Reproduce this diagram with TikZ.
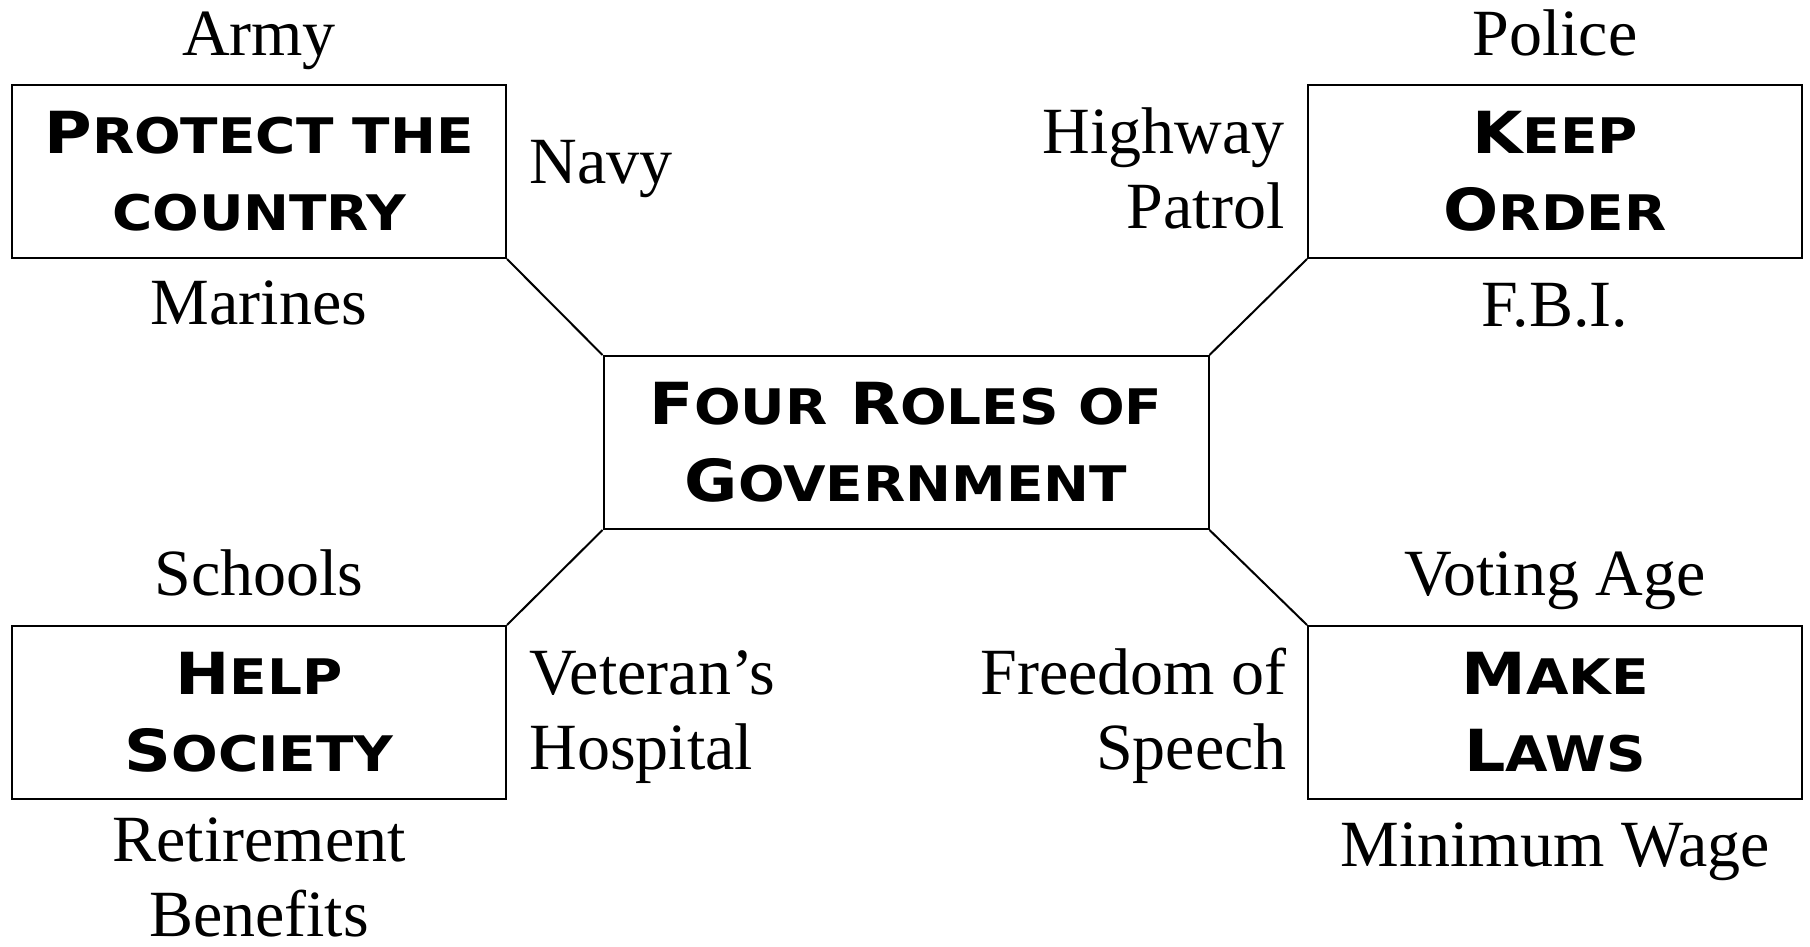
\documentclass[tikz,border=0pt]{standalone}
\usepackage{fontspec}
\setmainfont{Liberation Serif}
\newfontfamily\rollenfont[FakeStretch=1.12]{DejaVu Sans}
% Kapitaelchen von Hand
\newcommand\klein[1]{{\fontsize{24.5pt}{38.5pt}\selectfont #1}}

\begin{document}
\begin{tikzpicture}[x=0.5pt,y=-0.5pt,
  rolle/.style={draw,line width=1pt,minimum width=247pt,minimum height=86.5pt,
    inner sep=0pt,align=center,font=\rollenfont\bfseries\fontsize{29pt}{38.5pt}\selectfont},
  beispiel/.style={inner sep=0pt,font=\fontsize{33pt}{37.5pt}\selectfont},
  linie/.style={line width=1pt}]
  \useasboundingbox (0,0) rectangle (1810,947);
  % die vier Rollen und die Mitte
  \node[rolle,minimum width=302.5pt] (rollen) at (906,442.5) {F\klein{OUR} R\klein{OLES OF}\\G\klein{OVERNMENT}};
  \node[rolle] (schutz) at (259,171.5) {P\klein{ROTECT THE}\\\klein{COUNTRY}};
  \node[rolle] (ordnung) at (1555,171.5) {K\klein{EEP}\\O\klein{RDER}};
  \node[rolle] (hilfe) at (259,712.5) {H\klein{ELP}\\S\klein{OCIETY}};
  \node[rolle] (gesetze) at (1555,712.5) {M\klein{AKE}\\L\klein{AWS}};
  % Verbindungen
  \draw[linie] (schutz.south east) -- (rollen.north west);
  \draw[linie] (ordnung.south west) -- (rollen.north east);
  \draw[linie] (hilfe.north east) -- (rollen.south west);
  \draw[linie] (gesetze.north west) -- (rollen.south east);
  % Beispiele oben links (bei zwei Zeilen zaehlt die untere Grundlinie)
  \node[beispiel,anchor=base] (armee) at (259,56) {Army};
  \node[beispiel,anchor=base west] (marine) at (529,184) {Navy};
  \node[beispiel,anchor=base] (marines) at (259,324) {Marines};
  % oben rechts
  \node[beispiel,anchor=base] (polizei) at (1555,56) {Police};
  \node[beispiel,anchor=base east,align=right] (autobahn) at (1285,228) {Highway\\Patrol};
  \node[beispiel,anchor=base] (fbi) at (1555,326) {F.B.I.};
  % unten links
  \node[beispiel,anchor=base] (schulen) at (259,595) {Schools};
  \node[beispiel,anchor=base west,align=left] (spital) at (529,769) {Veteran’s\\Hospital};
  \node[beispiel,anchor=base,align=center] (rente) at (259,936) {Retirement\\Benefits};
  % unten rechts
  \node[beispiel,anchor=base] (wahlalter) at (1555,595) {Voting Age};
  \node[beispiel,anchor=base east,align=right] (freiheit) at (1287,769) {Freedom of\\Speech};
  \node[beispiel,anchor=base] (mindestlohn) at (1555,866) {Minimum Wage};
\end{tikzpicture}
\end{document}
